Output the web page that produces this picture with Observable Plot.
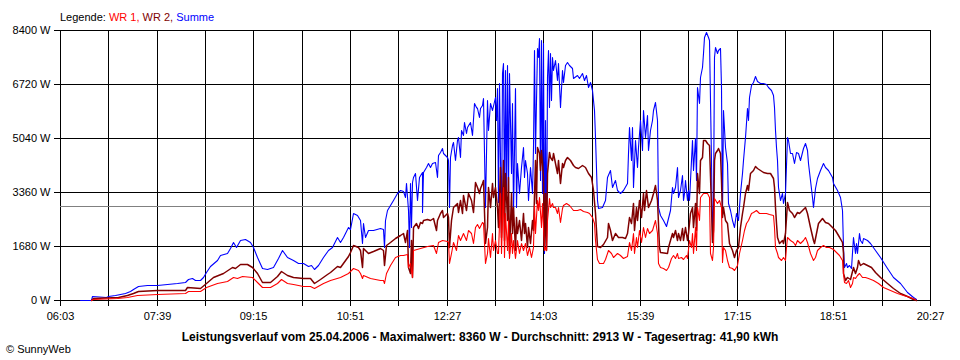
<!DOCTYPE html>
<html><head><meta charset="utf-8">
<script src="https://cdn.jsdelivr.net/npm/d3@7"></script>
<script src="https://cdn.jsdelivr.net/npm/@observablehq/plot@0.6"></script>
<style>
html,body{margin:0;padding:0;background:#fff;}
#chart{width:960px;height:360px;}
</style></head><body><div id="chart"></div>
<script>
// time in minutes after midnight, power in W
const xTickMinutes = [363, 459, 555, 651, 747, 843, 939, 1035, 1131, 1227];
const xTickLabels = ["06:03","07:39","09:15","10:51","12:27","14:03","15:39","17:15","18:51","20:27"];
const yTicks = [0, 1680, 3360, 5040, 6720, 8400];
const average = 2913;
const titleText = "Leistungsverlauf vom 25.04.2006 - Maximalwert: 8360 W - Durchschnitt: 2913 W - Tagesertrag: 41,90 kWh";
const seriesNames = ["WR 1", "WR 2", "Summe"];
const seriesColors = ["#ff0000", "#800000", "#0000ff"];

const summe = [
[383,0],[394,10],[395,120],[409,105],[411,125],[417.6,145],[422.6,187],[427.5,229],[432.5,291],[435.8,353],[440.8,446],[449,457],[459.7,477],[469,488],[478.9,519],[487.1,560],[490.4,664],[493.7,685],[497,623],[502,633],[505.3,726],[507.6,882],[512,1058],[518.6,1245],[521.9,1390],[528.5,1473],[531.8,1608],[535.1,1815],[537.4,1660],[541.7,1857],[546.7,1888],[551.7,1815],[555,1660],[558.3,1349],[563.3,986],[568.2,954],[574.8,1037],[579.8,1297],[583.1,1556],[588.1,1328],[594.7,1245],[599.7,1162],[604.6,1162],[609.6,1058],[611.9,1089],[615.5,954],[619.5,1089],[624.5,1349],[629.5,1556],[632.8,1660],[637.7,1950],[641,1815],[644.4,1971],[649.3,2261],[651,2220],[654.3,2717],[657.6,2645],[660.9,2489],[662.6,1763],[664.2,2385],[665.9,1971],[669.2,2178],[674.1,2178],[680.8,2251],
[684.1,2199],[684.8,1660],[685.8,2489],[687.4,2800],[690.7,2956],[694,3111],[697.4,3319],[700.7,3422],[704,3402],[705.6,3215],[706.6,3630],[708.9,2800],[709.9,1660],[710.6,3630],[711.6,2282],[712.2,3682],[713.9,3837],[715.6,3941],[717.2,3111],[719.9,3837],[722.2,3993],[722.8,2748],[723.8,3993],[726.5,4148],[728.8,4252],[730.5,4148],[732.1,4273],[735.4,4304],[737.1,3837],[738.7,4511],[740.4,4615],[742,4719],[743.7,4563],[747,4439],[748.7,4356],[749.3,2904],[750.3,4459],[752,4822],[753.6,4926],[755.3,4356],[756.9,4978],[758.6,5081],[760.2,4459],[761.2,5289],[762.9,5133],[764.2,5548],[766.2,5185],[767.5,5393],[770.2,5548],[771.8,5133],[774.1,6118],[776.1,6015],[777.5,5963],[779.1,5704],[780.1,5963],[781.8,6067],[783.4,6274],[785.1,2904],[786.7,6222],[788.4,5289],[790,6118],[791.7,5911],[795,6305],[796,5600],[797.3,6585],[798.3,3059],[799.3,6741],[800.6,2074],[801.6,7052],[802.6,7363],[803.9,2904],[804.9,7156],[805.9,3215],[807.2,7311],[808.2,3319],[809.2,7052],[810.6,3941],[811.9,6118],[813.2,2696],[814.5,6585],[815.8,2904],[817.2,4252],[819.2,3319],[820.5,4148],[822.5,4770],[823.8,3837],[825.1,4356],[826.4,3941],[828.1,3111],[829.8,4148],[831.4,3319],[833.1,4770],[834.1,7778],[835,4563],[836.4,7830],[837.7,7570],[838.4,8141],[839.3,3733],[840.3,8089],[841.3,3319],[842.3,7985],[843.3,1452],[844.3,5600],[845.6,1556],[847,6948],[848,7778],[849,6015],[849.6,7674],[850.6,6222],[851.6,7570],[852.9,7156],[854.6,7467],[856.2,6845],[857.9,7363],[859.5,6015],[861.2,7156],[862.9,6793],[864.5,7311],[866.2,7415],[868.8,7311],[871.1,7207],[872.8,6896],[876.1,7000],[878.7,6896],[881.1,7052],[883.4,6845],[885.4,7000],[887.7,6637],[889.3,6793],[891.3,6533],[893.3,5911],[894.6,5081],[896,3111],[897.6,2852],[900.9,2904],[904.2,3111],[906.5,3837],[909.2,4044],[910.8,3526],[914.2,3733],[916.5,3422],[919.1,3319],[922.4,3422],[925.7,3630],[927.4,4563],[928.4,5393],[929.7,4356],[931,5393],[932.4,3526],[934,4978],[935.7,4148],[937.3,4770],[939,5600],[940.6,4667],[942.3,5911],[944,5081],[945.6,5756],[947.3,4667],[948.9,5289],[950.6,5600],[952.2,5911],[953.9,6170],[955.5,5600],[957.2,2904],
[958.9,2645],[962.2,2489],[964.9,2302],[967.2,2541],[968.8,2800],[970.5,3526],[972.1,3319],[973.8,3526],[975.5,4148],[977.1,3215],[978.8,3422],[980.4,3889],[981.4,3111],[982.7,3319],[984.1,3733],[985.4,3111],[987,3422],[988,3111],[989.4,4356],[990.7,4978],[992,4044],[993.7,5030],[994.6,3733],[996,6637],[997.3,6118],[998.6,6948],[1000.3,7259],[1001.9,7674],[1002.9,8193],[1004.6,8348],[1006.2,8193],[1007.9,8089],[1009.2,4356],[1010.2,1867],[1011.2,3007],[1012.5,7570],[1013.5,7881],[1015.2,7674],[1016.8,7778],[1018.5,7830],[1019.5,6637],[1020.5,2696],[1021.8,5911],[1023.4,4770],[1025.1,4252],[1026.8,3007],[1028.4,2800],[1030.1,2489],[1032.4,2282],[1034.4,2696],[1036.7,2489],[1038.3,3319],[1040,3941],[1041.7,4356],[1043.3,5081],[1045,5963],[1046.6,5600],[1047.6,6326],[1048.9,6689],[1050.9,6793],[1053.2,6969],[1055.6,6824],[1058.2,6761],[1061.5,6741],[1064.2,6720],[1066.5,6637],[1068.8,6533],[1070.8,6378],[1072.1,6015],[1073.1,5289],[1074.1,4770],[1075.4,4356],[1076.4,3526],[1078.1,3111],[1079.7,3319],[1081.4,3007],[1083,3319],[1084.7,5081],[1086.3,4978],[1088,4563],[1089.6,4563],[1092,4273],[1094,4615],[1096.3,4563],[1097.9,4356],[1100.6,4719],[1102.9,4874],[1104.5,4667],[1106.2,4252],[1107.9,3733],[1109.5,3215],[1111.2,2904],[1112.8,3474],[1114.5,3785],[1117.8,4044],[1120.4,4252],[1122.7,4148],[1126.1,4044],[1129.4,3837],[1131,3630],[1134.3,3422],[1137.6,3215],[1139.3,2800],[1141,1660],[1142,1037],[1143.6,1141],[1144.9,1037],[1146.9,1089],[1148.9,985],[1150.9,1970],[1152.2,1452],[1153.5,1763],[1154.9,1452],[1156.2,2074],[1157.5,1867],[1159.2,1763],[1160.8,1919],[1164.1,1867],[1167.4,1763],[1172.4,1556],[1177.4,1348],[1184,985],[1190.6,726],[1197.2,519],[1203.8,259],[1210.5,104],[1213.1,21]
];

const wr2 = [
[394,0],[396.1,73],[421,104],[429.2,146],[435.8,208],[440.8,270],[459,311],[487.1,311],[488.8,394],[502,374],[507.6,540],[515.3,726],[525.2,851],[533.5,1037],[536.8,986],[541.7,1110],[548.4,1110],[553.3,1037],[558.3,851],[563.3,571],[571.5,571],[578.2,747],[582.1,913],[588.1,778],[594.7,706],[604.6,674],[611.3,674],[615.5,540],[621.2,643],[627.8,809],[631.1,882],[637.7,1058],[641,1037],[649.3,1369],[651,1504],[654.3,1711],[659.2,1660],[660.9,1556],[662.6,1037],[664.2,1608],[669.2,1473],[674.1,1535],[680.8,1608],
[684.1,1556],[685.1,1089],[686.8,1711],[690.7,1815],[695.7,1919],[700.7,2022],[704,2074],[705.6,1815],[707.3,2178],[709,1037],[710.6,830],[711.6,1867],[712.6,726],[713.9,2282],[716.5,2385],[718.9,2230],[720.5,2437],[722.2,2385],[723.8,2489],[727.1,2510],[730.5,2489],[733.8,2541],[736.4,2178],[737.7,2489],[740.4,2696],[742,2800],[743.7,2593],[747,2696],[748.7,2593],[749.3,1660],[751,2489],[753.6,2904],[756.9,3007],[758.6,2748],[760.2,3111],[761.9,2696],[763.6,3267],[766.2,2800],[768.5,3319],[770.8,3111],[772.8,2748],[775.1,3682],[777.5,3526],[778.8,3319],[780.1,3474],[781.8,3630],[783.4,3733],[785.1,1763],[786.7,2282],[788.4,3526],[790,2904],[791.7,3630],[793.3,3215],[795,3526],[796.7,2904],[798.3,2282],[800,4148],[801.3,1970],[802.6,4356],[803.9,1867],[805.3,3941],[806.6,2489],[807.9,3837],[809.2,1452],[810.6,3319],[811.9,2074],[813.2,2904],[814.5,1556],[815.8,2593],[817.2,2074],[819.2,2489],[821.1,1867],[822.5,2696],[823.8,2074],[825.1,2385],[826.4,1660],[828.1,2282],[829.8,1763],[831.4,2489],[833.1,2178],[834.7,4356],[835.7,3007],[837,4770],[838.4,4563],[839.7,4044],[841,4667],[842.3,3837],[843.3,1660],[844.6,3319],[845.6,1556],[847,3941],[848.3,4615],[849.6,4459],[851.3,4356],[852.9,4563],[854.6,4252],[856.2,3941],[857.9,4356],[859.5,3630],[861.2,4252],[862.9,4148],[864.5,4356],[866.8,4439],[869.5,4356],[872.1,4200],[874.4,4148],[877.7,4096],[881.1,4200],[884.4,4148],[887.7,3941],[890,3837],[892.6,3422],[894.3,2696],[896,1680],[899.3,1660],[902.6,1742],[905.9,1970],[907.5,2385],[909.2,2178],[910.8,1867],[914.2,2074],[917.5,1970],[920.8,1970],[924.1,1919],[926.4,2074],[928.4,2593],[929.7,2385],[931.7,3007],[933,2178],[935,2904],[936.3,2489],[938.3,3111],[939.6,2593],[941.6,3319],[942.9,2800],[944.9,3422],[947.3,2904],[949.6,3111],[952.2,3319],[953.9,3578],[955.5,3111],[957.5,1660],
[958.9,1504],[965.5,1452],[967.2,1660],[970.5,2074],[972.1,1970],[973.8,2178],[975.5,1867],[977.1,2074],[978.8,1867],[980.4,2230],[982.1,1867],[983.7,2282],[985.4,1867],[987,2074],[988.7,2696],[990.3,2904],[992,2282],[993.7,3007],[994.6,2178],[996,3941],[997.3,3319],[998.6,4356],[1000.3,4459],[1001.9,4978],[1003.6,4978],[1005.2,4874],[1007.9,4822],[1009.2,2904],[1010.2,1815],[1011.2,2178],[1012.5,4356],[1013.5,4563],[1015.2,4667],[1016.8,4719],[1018.5,4563],[1019.5,3733],[1020.5,2593],[1021.8,2904],[1023.4,2489],[1025.1,2385],[1027.7,1763],[1030.1,1556],[1032.4,1348],[1034.4,1556],[1036.7,1660],[1038.3,2282],[1040,2696],[1041.7,2904],[1043.3,3319],[1045,3578],[1046.6,3422],[1048.3,3941],[1050.9,4044],[1053.2,4169],[1055.6,4096],[1058.2,4044],[1061.5,3993],[1064.8,3941],[1068.1,3941],[1070.8,3785],[1072.1,3526],[1073.1,2904],[1074.1,2385],[1075.4,1970],[1077.4,1763],[1079.7,1867],[1081.4,1784],[1083,2074],[1084.7,3059],[1087.3,2800],[1089.6,2696],[1092,2572],[1094.6,2748],[1097.3,2696],[1099.6,2800],[1102.9,2904],[1105.2,2696],[1107.9,2282],[1110.5,1867],[1111.8,1763],[1113.8,2074],[1116.1,2385],[1119.4,2541],[1122.7,2437],[1126.1,2406],[1129.4,2282],[1132.7,2178],[1136,2022],[1139.3,1815],[1140.3,1452],[1141,830],[1142.6,622],[1144.9,726],[1147.6,643],[1150.2,1037],[1152.2,830],[1154.2,1037],[1155.8,1245],[1157.5,1089],[1160.8,1141],[1164.1,1089],[1168.1,1037],[1172.4,882],[1177.4,726],[1184,519],[1190.6,363],[1197.2,228],[1203.8,124],[1210.5,42],[1213.1,0]
];

const wr1 = [
[394,0],[396.1,42],[419.3,52],[429.2,104],[439.1,156],[459,187],[487.1,208],[490.4,270],[502,270],[507.6,394],[518.6,540],[528.5,602],[535.1,726],[538.4,675],[543.4,747],[553.3,706],[558.3,571],[563.3,415],[571.5,415],[578.2,540],[582.1,643],[588.1,519],[594.7,488],[604.6,446],[611.3,436],[615.5,363],[624.5,519],[631.1,623],[641,726],[649.3,851],[654.3,1006],[659.2,934],[660.9,851],[662.6,675],[664.2,778],[670.8,675],[680.8,623],
[684.1,622],[685.1,519],[686.8,830],[690.7,1089],[695.7,1327],[700.7,1390],[704,1400],[707.3,1431],[709,1037],[710.6,1141],[712.2,726],[713.9,1556],[720.5,1608],[727.1,1680],[733.8,1711],[736.4,1473],[738.7,1815],[742,1867],[747,1846],[748.7,1815],[749.3,1141],[751,1452],[753.6,1815],[756.3,1556],[758.6,2022],[760.2,1867],[763.6,2074],[766.2,1867],[768.5,2178],[770.8,2074],[772.8,1763],[775.1,2282],[777.5,2365],[779.4,2230],[781.8,2437],[783.4,2385],[785.1,1162],[786.7,1452],[788.4,1919],[790,1349],[791.7,2074],[793.3,1556],[795,1867],[796.7,1452],[798.3,1452],[800,3319],[801.3,1452],[802.6,3526],[803.9,1349],[805.3,2696],[806.6,1556],[807.9,2489],[809.2,1297],[810.6,2074],[811.9,1452],[813.2,1867],[814.5,1297],[816.5,1867],[818.5,1452],[820.5,1763],[822.5,1556],[824.5,1763],[826.4,1400],[828.4,1660],[830.4,1349],[832.4,1660],[834.1,2956],[835,2074],[836.4,3111],[837.7,2800],[839,3215],[840.3,2282],[841.7,3007],[843.3,1556],[844.6,1660],[845.6,1556],[847,2489],[848.3,3163],[849.6,2904],[851.3,3007],[852.9,2904],[854.6,2904],[856.2,2696],[857.9,2904],[859.5,2437],[861.2,2852],[862.9,2956],[865.5,3007],[868.8,2956],[872.1,2800],[876.1,2800],[879.4,2821],[882.7,2780],[886,2748],[888.7,2696],[891.3,2593],[893.3,2385],[894.6,1867],[896,1265],[898.6,1141],[901.9,1162],[904.6,1265],[907.5,1556],[909.9,1452],[912.5,1328],[915.8,1452],[919.1,1390],[922.4,1297],[925.7,1369],[928.4,1815],[929.7,1556],[931.7,2074],[933,1452],[935,1970],[936.3,1660],[938.3,2178],[940.3,1815],[942.3,2282],[944,1970],[945.6,2230],[948.2,2074],[950.6,2178],[953.9,2489],[955.5,2074],[957.2,1141],
[958.9,1037],[962.2,985],[964.9,934],[967.2,1037],[969.5,1297],[971.5,1400],[973.8,1297],[975.5,1452],[977.1,1297],[979.4,1328],[982.1,1265],[984.7,1400],[986,1297],[988,1867],[989.4,1660],[990.7,2074],[992,1452],[993.7,2282],[994.6,1556],[996,2904],[997.3,2489],[998.6,3215],[1001.9,3319],[1005.2,3319],[1007.9,3215],[1008.5,1452],[1010.2,1245],[1011.2,1660],[1012.5,3163],[1015.2,3007],[1017.8,3111],[1019.1,2904],[1020.1,1193],[1021.8,1660],[1023.4,1556],[1025.1,1245],[1027.7,1037],[1030.1,985],[1032.4,934],[1035,1089],[1037.7,1452],[1040,1867],[1042.3,2178],[1044.3,2385],[1046.6,2489],[1048.9,2696],[1051.6,2748],[1054.2,2800],[1057.5,2717],[1060.8,2696],[1064.2,2717],[1067.5,2676],[1070.8,2645],[1072.1,2282],[1073.4,1660],[1074.7,1452],[1076.4,1349],[1078.7,1245],[1080.7,1349],[1083,1245],[1084,1660],[1085.3,1970],[1088,1867],[1090.6,1815],[1093,1711],[1095.3,1867],[1097.9,1763],[1100.6,1867],[1103.2,1970],[1105.2,1815],[1107.9,1452],[1110.5,1245],[1112.8,1349],[1115.1,1556],[1117.8,1660],[1120.4,1711],[1123.7,1660],[1127.1,1639],[1130.4,1576],[1133.7,1504],[1137,1400],[1139.3,1245],[1140.3,830],[1141.6,571],[1143.6,519],[1145.6,622],[1147.6,415],[1149.6,519],[1150.9,726],[1152.9,674],[1154.9,778],[1156.8,830],[1159.2,726],[1162.5,705],[1165.8,674],[1170.7,622],[1175.7,519],[1180.7,415],[1187.3,311],[1193.9,228],[1200.5,156],[1207.2,83],[1212.1,21]
];

const gridMinutes = d3.range(xTickMinutes[0], xTickMinutes[xTickMinutes.length - 1] + 1, 48);
const labelFor = t => { const i = xTickMinutes.indexOf(t); return i >= 0 ? xTickLabels[i] : ""; };
const fontFamily = "'Liberation Sans', Arial, sans-serif";

const chart = Plot.plot({
  width: 960,
  height: 360,
  marginLeft: 60,
  marginRight: 30,
  marginTop: 30,
  marginBottom: 60,
  style: {background: "white", color: "black", fontFamily, fontSize: "11px", overflow: "visible"},
  x: {domain: [xTickMinutes[0], xTickMinutes[xTickMinutes.length - 1]], round: true},
  y: {domain: [0, 8400], round: true},
  marks: [
    Plot.ruleX(gridMinutes, {stroke: "black", strokeWidth: 1}),
    Plot.ruleY(yTicks, {stroke: "black", strokeWidth: 1}),
    Plot.ruleY([average], {stroke: "#808080", strokeWidth: 1}),
    Plot.line(summe, {x: d => d[0], y: d => d[1], stroke: seriesColors[2], strokeWidth: 1.1}),
    Plot.line(wr2, {x: d => d[0], y: d => d[1], stroke: seriesColors[1], strokeWidth: 1.5}),
    Plot.line(wr1, {x: d => d[0], y: d => d[1], stroke: seriesColors[0], strokeWidth: 1.1}),
    Plot.axisX(gridMinutes, {tickSize: 6, tickPadding: 6, tickFormat: labelFor, label: null, stroke: "black", fill: "black"}),
    Plot.axisY(yTicks, {tickSize: 6, tickPadding: 4, tickFormat: d => d + " W", label: null, stroke: "black", fill: "black"})
  ]
});
document.getElementById("chart").appendChild(chart);

const svg = d3.select(chart);
const legend = svg.append("text").attr("x", 60).attr("y", 20.5).attr("font-size", 11)
  .attr("fill", "black").attr("text-anchor", "start");
legend.append("tspan").text("Legende: ");
legend.append("tspan").attr("fill", seriesColors[0]).text(seriesNames[0] + ", ");
legend.append("tspan").attr("fill", seriesColors[1]).text(seriesNames[1] + ", ");
legend.append("tspan").attr("fill", seriesColors[2]).text(seriesNames[2]);

svg.append("text").attr("x", 480).attr("y", 341).attr("text-anchor", "middle")
  .attr("font-weight", "bold").attr("font-size", 12).attr("fill", "black").text(titleText);

svg.append("text").attr("x", 6).attr("y", 352.5).attr("font-size", 11).attr("fill", "black")
  .attr("text-anchor", "start").text("\u00A9 SunnyWeb");
</script></body></html>
